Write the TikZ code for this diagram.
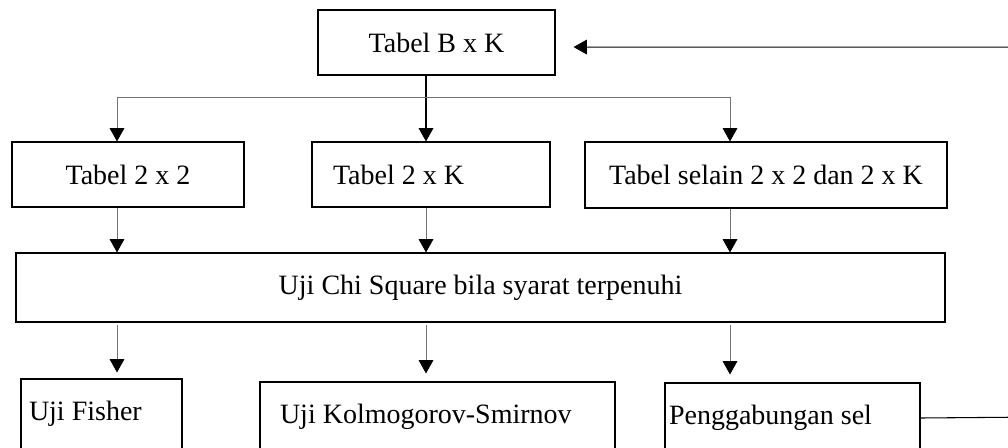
\documentclass[tikz,border=0pt]{standalone}
\usepackage{fontspec}
\setmainfont{Liberation Serif}
\usepackage{tikz}
\usetikzlibrary{arrows.meta,positioning}

\tikzset{
  box/.style={draw, thick, minimum height=48.75pt, font=\fontsize{21}{25}\selectfont},
  lbox/.style={box, align=flush left},
  line/.style={draw=black!55, semithick},
  arr/.style={line, -{Triangle[width=11pt,length=10pt,color=black]}}
}

\begin{document}
\begin{tikzpicture}[x=0.75pt, y=-0.75pt]
\useasboundingbox (0,0) rectangle (1008,447);
\clip (0,0) rectangle (1008,447);
\node (bxk) [box, minimum width=177.75pt] at (436.5,42.5) {Tabel B x K};
\node (t22) [box, minimum width=174pt] at (128,174.5) {Tabel 2 x 2};
\node (t2k) [lbox, text width=147pt, inner xsep=15.75pt] at (431,174.5) {Tabel 2 x K};
\node (tlain) [box, minimum width=271.5pt, minimum height=49.5pt] at (766,175) {Tabel selain 2 x 2 dan 2 x K};
\node (chi) [box, minimum width=696.75pt, minimum height=51.75pt] at (480.5,287.5) {Uji Chi Square bila syarat terpenuhi};
\node (fisher) [lbox, text width=108.75pt, inner xsep=6pt, minimum height=52.5pt] at (101.5,414) {Uji Fisher};
\node (kolmo) [lbox, text width=236.25pt, inner xsep=15pt, minimum height=52.5pt] at (437.5,417) {Uji Kolmogorov-Smirnov};
\node (gabung) [lbox, text width=185.25pt, inner xsep=3pt, minimum height=52.5pt] at (792.5,418) {Penggabungan sel};
\coordinate (split) at (426,97);
\coordinate (colA) at (117,97);
\coordinate (colC) at (730,97);
\coordinate (back) at (1040,417);
\draw[arr, draw=black, thick] (bxk.south -| split) -- (t2k.north -| split);
\draw[line] (colA) -- (colC);
\draw[arr] (colA) -- (t22.north -| colA);
\draw[arr] (colC) -- (tlain.north -| colC);
\draw[arr] (t22.south -| colA) -- (chi.north -| colA);
\draw[arr] (t2k.south -| split) -- (chi.north -| split);
\draw[arr] (tlain.south -| colC) -- (chi.north -| colC);
\draw[arr, shorten <=2pt, shorten >=4.5pt] (chi.south -| colA) -- (fisher.north -| colA);
\draw[arr, shorten <=2pt, shorten >=6pt] (chi.south -| split) -- (kolmo.north -| split);
\draw[arr, shorten <=2pt, shorten >=6pt] (chi.south -| colC) -- (gabung.north -| colC);
\draw[arr, draw=black, thick, shorten >=13.5pt] (gabung.east) -- (back) |- ([yshift=-3.4pt]bxk.east);
\end{tikzpicture}
\end{document}
